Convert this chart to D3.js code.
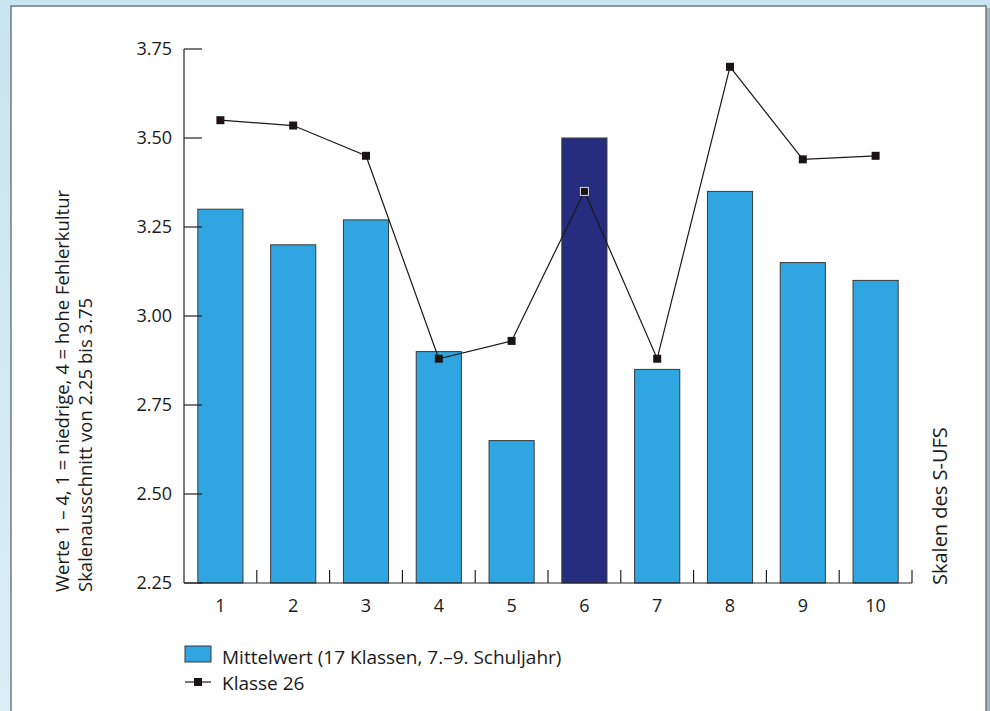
<!DOCTYPE html>
<html><head>
<meta charset="utf-8">
<script src="https://d3js.org/d3.v7.min.js"></script>
<style>
  body { margin: 0; background: #d3eaf4; }
  svg { display: block; font-family: "Open Sans", "Noto Sans", sans-serif; }
  text.tick { font-size: 18px; fill: #1a1a1a; }
  text.label { font-size: 18.5px; fill: #1a1a1a; }
  text.legend { font-size: 19px; fill: #1a1a1a; }
</style>
</head>
<body>
<svg id="chart" width="990" height="711"></svg>
<script>
  // Skalen des S-UFS
  const categories = ["1","2","3","4","5","6","7","8","9","10"];
  // Mittelwert (17 Klassen)
  const meanValues = [3.30, 3.20, 3.27, 2.90, 2.65, 3.50, 2.85, 3.35, 3.15, 3.10];
  // Klasse 26
  const classValues = [3.55, 3.535, 3.45, 2.88, 2.93, 3.35, 2.88, 3.70, 3.44, 3.45];
  const yTicks = [2.25, 2.50, 2.75, 3.00, 3.25, 3.50, 3.75];
  const highlight = "6";

  const svg = d3.select("#chart");

  // background gradient + panel
  const defs = svg.append("defs");
  const grad = defs.append("linearGradient").attr("id","bg").attr("x1",0).attr("x2",0).attr("y1",0).attr("y2",1);
  grad.append("stop").attr("offset","0%").attr("stop-color","#c9e5f1");
  grad.append("stop").attr("offset","100%").attr("stop-color","#daeef6");
  svg.append("rect").attr("width",990).attr("height",711).attr("fill","url(#bg)");
  svg.append("rect").attr("x",986).attr("y",8).attr("width",4).attr("height",703).attr("fill","#9fb4bb");
  svg.append("rect").attr("x",11).attr("y",6).attr("width",975).attr("height",720)
     .attr("fill","#fff").attr("stroke","#6f7a7e").attr("stroke-width",1.5);

  const x = d3.scaleBand().domain(categories).range([184, 912]).paddingInner(0.38).paddingOuter(0.19);
  const y = d3.scaleLinear().domain([2.25, 3.75]).range([583, 49]);
  const g = svg.append("g");

  // bars
  g.selectAll("rect.bar").data(categories)
    .join("rect")
    .attr("class","bar")
    .attr("x", d => x(d))
    .attr("width", x.bandwidth())
    .attr("y", (d,i) => y(meanValues[i]))
    .attr("height", (d,i) => y(2.25) - y(meanValues[i]))
    .attr("fill", d => d === highlight ? "#262d7e" : "#2fa6e1")
    .attr("stroke", "#3a3a3a")
    .attr("stroke-width", 1);

  // y axis: line + ticks to the right
  g.append("line").attr("x1",184).attr("x2",184).attr("y1",y(3.75)).attr("y2",y(2.25)).attr("stroke","#222").attr("stroke-width",1.2);
  g.selectAll("line.ytick").data(yTicks)
    .join("line").attr("class","ytick")
    .attr("x1",184).attr("x2",202)
    .attr("y1", d => y(d)).attr("y2", d => y(d))
    .attr("stroke","#222").attr("stroke-width",1.2);
  g.selectAll("text.ytl").data(yTicks)
    .join("text").attr("class","tick ytl")
    .attr("x",172).attr("y", d => y(d) + 6)
    .attr("text-anchor","end")
    .text(d => d.toFixed(2));

  // x axis: line + upward ticks at band boundaries
  g.append("line").attr("x1",184).attr("x2",912).attr("y1",y(2.25)).attr("y2",y(2.25)).attr("stroke","#222").attr("stroke-width",1.2);
  const step = x.step();
  const bounds = categories.map((d,i) => x(d) - x.paddingInner()*step/2 + step);
  g.selectAll("line.xtick").data(bounds)
    .join("line").attr("class","xtick")
    .attr("x1", d => d).attr("x2", d => d)
    .attr("y1", y(2.25)).attr("y2", y(2.25) - 13)
    .attr("stroke","#222").attr("stroke-width",1.2);
  g.selectAll("text.xtl").data(categories)
    .join("text").attr("class","tick xtl")
    .attr("x", d => x(d) + x.bandwidth()/2).attr("y", 612)
    .attr("text-anchor","middle")
    .text(d => d);

  // line series
  const line = d3.line().x((d,i) => x(categories[i]) + x.bandwidth()/2).y(d => y(d));
  g.append("path").datum(classValues)
    .attr("d", line).attr("fill","none").attr("stroke","#1a1a1a").attr("stroke-width",1.2);
  g.selectAll("rect.marker").data(classValues)
    .join("rect").attr("class","marker")
    .attr("x", (d,i) => x(categories[i]) + x.bandwidth()/2 - 4)
    .attr("y", d => y(d) - 4)
    .attr("width",8).attr("height",8)
    .attr("fill","#1a1414")
    .attr("stroke", (d,i) => categories[i] === highlight ? "#ddd" : "none")
    .attr("stroke-width",1);

  // axis titles
  g.append("text").attr("class","label")
    .attr("transform","translate(69,592) rotate(-90)")
    .text("Werte 1 – 4, 1 = niedrige, 4 = hohe Fehlerkultur");
  g.append("text").attr("class","label")
    .attr("transform","translate(92,592) rotate(-90)")
    .text("Skalenausschnitt von 2.25 bis 3.75");
  g.append("text").attr("class","label")
    .attr("transform","translate(947,585) rotate(-90)")
    .style("font-size","20px")
    .text("Skalen des S-UFS");

  // legend
  const lg = svg.append("g");
  lg.append("rect").attr("x",185).attr("y",646).attr("width",26).attr("height",16)
    .attr("fill","#2fa6e1").attr("stroke","#3a3a3a").attr("stroke-width",1);
  lg.append("text").attr("class","legend").attr("x",222).attr("y",664)
    .text("Mittelwert (17 Klassen, 7.–9. Schuljahr)");
  lg.append("line").attr("x1",185).attr("x2",211).attr("y1",682).attr("y2",682).attr("stroke","#1a1a1a").attr("stroke-width",1.2);
  lg.append("rect").attr("x",194).attr("y",678).attr("width",8).attr("height",8).attr("fill","#1a1414");
  lg.append("text").attr("class","legend").attr("x",222).attr("y",690).text("Klasse 26");
</script>
</body>
</html>
